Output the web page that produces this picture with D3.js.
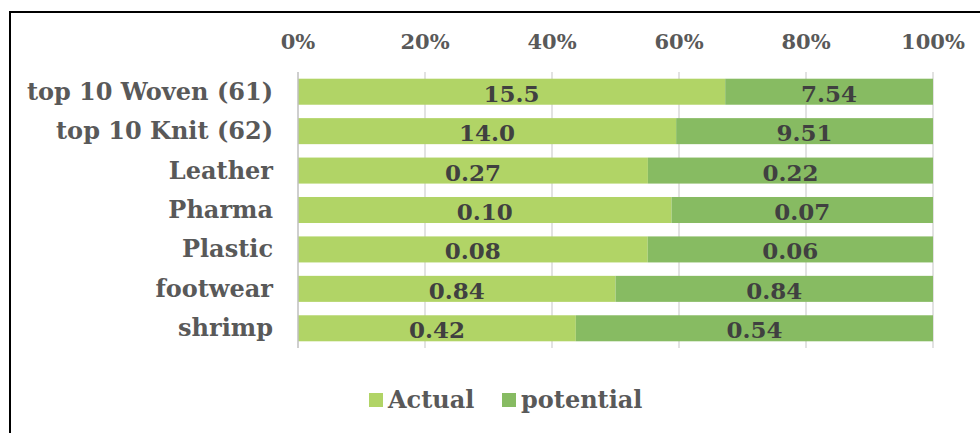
<!DOCTYPE html>
<html lang="en">
<head>
<meta charset="UTF-8">
<title>chart</title>
<style>
  body { margin: 0; background: #fff; }
  text { font-family: Georgia, "DejaVu Serif", serif; font-weight: bold; }
</style>
</head>
<body>
<script src="https://d3js.org/d3.v7.min.js"></script>
<script>
  // data
  const categories = ['top 10 Woven (61)', 'top 10 Knit (62)', 'Leather', 'Pharma', 'Plastic', 'footwear', 'shrimp'];
  const actual = [15.5, 14.0, 0.27, 0.10, 0.076, 0.84, 0.42];
  const potential = [7.54, 9.51, 0.22, 0.07, 0.062, 0.84, 0.54];
  const seriesNames = ['Actual', 'potential'];
  const tickValues = [0, 0.2, 0.4, 0.6, 0.8, 1];

  const width = 980, height = 433;
  const colors = ['#b1d466', '#87bb62'];

  const svg = d3.select('body').append('svg')
    .attr('width', width)
    .attr('height', height);

  // outer frame (right/bottom run off the picture)
  svg.append('rect')
    .attr('x', 10).attr('y', 12)
    .attr('width', 1000).attr('height', 460)
    .attr('fill', 'none')
    .attr('stroke', '#000')
    .attr('stroke-width', 2);

  const x = d3.scaleLinear().domain([0, 1]).range([298, 933]);
  const y = d3.scaleBand().domain(categories).range([72, 348]).paddingInner(0.34).paddingOuter(0.17);

  // gridlines
  svg.append('g').selectAll('line')
    .data(tickValues.slice(1))
    .join('line')
    .attr('x1', d => x(d)).attr('x2', d => x(d))
    .attr('y1', 72).attr('y2', 348)
    .attr('stroke', '#d9d9d9')
    .attr('stroke-width', 1.5);

  // tick labels on top
  svg.append('g').selectAll('text')
    .data(tickValues)
    .join('text')
    .attr('x', d => x(d))
    .attr('y', 49)
    .attr('text-anchor', 'middle')
    .attr('font-size', 21)
    .attr('fill', '#595959')
    .text(d3.format('.0%'));

  const rows = categories.map((c, i) => ({ cat: c, vals: [actual[i], potential[i]] }));

  const row = svg.append('g').selectAll('g')
    .data(rows)
    .join('g');

  row.each(function (d) {
    const total = d.vals[0] + d.vals[1];
    let acc = 0;
    const segs = d.vals.map((v, j) => {
      const s = { x0: acc / total, x1: (acc + v) / total, v: v, j: j };
      acc += v;
      return s;
    });
    const g = d3.select(this);
    g.selectAll('rect')
      .data(segs)
      .join('rect')
      .attr('x', s => x(s.x0))
      .attr('width', s => x(s.x1) - x(s.x0))
      .attr('y', y(d.cat))
      .attr('height', y.bandwidth())
      .attr('fill', s => colors[s.j]);
    g.selectAll('text.val')
      .data(segs)
      .join('text')
      .attr('class', 'val')
      .attr('x', s => (x(s.x0) + x(s.x1)) / 2)
      .attr('y', y(d.cat) + y.bandwidth() / 2 + 10)
      .attr('text-anchor', 'middle')
      .attr('font-size', 23)
      .attr('fill', '#404040')
      .text(s => s.v >= 10 ? s.v.toFixed(1) : s.v.toFixed(2));
  });

  // category axis line
  svg.append('line')
    .attr('x1', 298).attr('x2', 298)
    .attr('y1', 72).attr('y2', 348)
    .attr('stroke', '#bfbfbf')
    .attr('stroke-width', 1.5);

  // category labels
  svg.append('g').selectAll('text')
    .data(categories)
    .join('text')
    .attr('x', 273)
    .attr('y', d => y(d) + y.bandwidth() / 2 + 8)
    .attr('text-anchor', 'end')
    .attr('font-size', 24)
    .attr('fill', '#595959')
    .text(d => d);

  // legend
  const legX = [369, 502];
  const leg = svg.append('g').selectAll('g')
    .data(seriesNames)
    .join('g')
    .attr('transform', (d, i) => `translate(${legX[i]},393)`);
  leg.append('rect')
    .attr('width', 14).attr('height', 14)
    .attr('fill', (d, i) => colors[i]);
  leg.append('text')
    .attr('x', 19).attr('y', 15)
    .attr('font-size', 24)
    .attr('fill', '#595959')
    .text(d => d);
</script>
</body>
</html>
